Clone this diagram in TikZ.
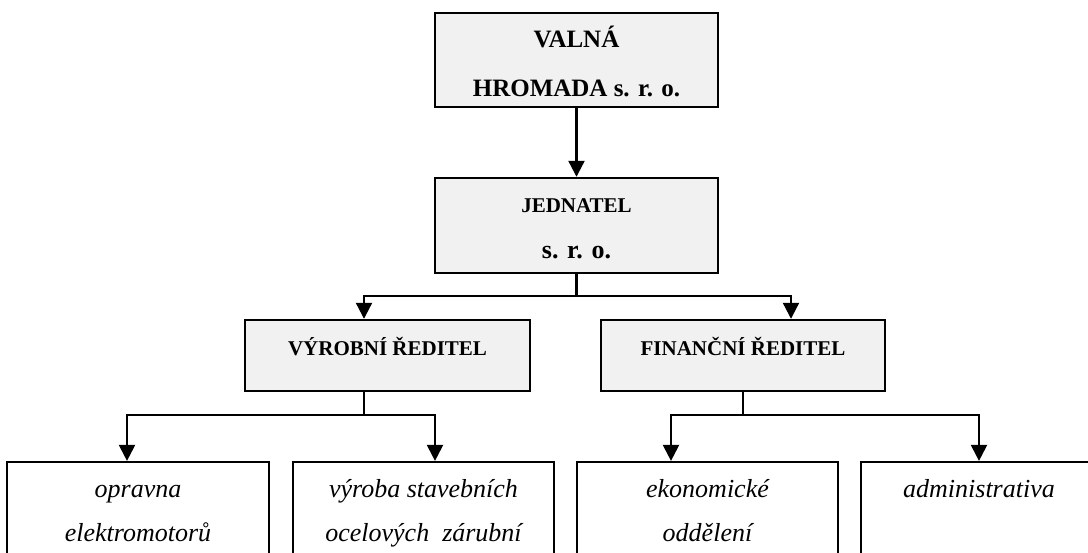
\documentclass[tikz,border=0pt]{standalone}
\usepackage{fontspec}
\setmainfont{Liberation Serif}
\usetikzlibrary{arrows.meta}
\definecolor{boxgray}{RGB}{241,241,241}
\begin{document}
\begin{tikzpicture}[x=1pt,y=-1pt,
  boss/.style={draw=black, line width=2.4pt, fill=boxgray, inner sep=0pt, align=center},
  unit/.style={draw=black, line width=2.2pt, fill=white, inner sep=0pt, align=center,
    minimum height=102pt, font=\fontsize{26}{44}\selectfont\itshape},
  conn/.style={line width=2.2pt},
  arr/.style={conn, -{Triangle[width=16pt,length=16pt]}}]
\useasboundingbox (0,0) rectangle (1088,553);
\fill[white] (0,0) rectangle (1088,553);
\clip (0,0) rectangle (1088,553);
% boxes
\node[boss, minimum width=283pt, minimum height=94pt, font=\fontsize{25}{49}\selectfont\bfseries]
  (vh) at (576.5,60) {\rule{0pt}{25pt}VALNÁ\\HROMADA s. r. o.};
\node[boss, minimum width=283pt, minimum height=95pt, font=\fontsize{21}{46}\selectfont\bfseries]
  (jed) at (576.5,225.5) {\rule{0pt}{21pt}JEDNATEL\\{\fontsize{26}{46}\selectfont s. r. o.}};
\node[boss, minimum width=285pt, minimum height=71pt, font=\fontsize{21}{25}\selectfont\bfseries,
  text height=20pt, text depth=19pt] (vyr) at (387.5,355.5) {VÝROBNÍ ŘEDITEL};
\node[boss, minimum width=284pt, minimum height=71pt, font=\fontsize{21}{25}\selectfont\bfseries,
  text height=20pt, text depth=19pt] (fin) at (743,355.5) {FINANČNÍ ŘEDITEL};
\node[unit, minimum width=262pt] (b1) at (138,513)
  {\rule{0pt}{20pt}opravna\\elektromotorů\rule[-8pt]{0pt}{0pt}};
\node[unit, minimum width=261pt] (b2) at (423.5,513)
  {\rule{0pt}{20pt}výroba stavebních\\ocelových~ zárubní\rule[-8pt]{0pt}{0pt}};
\node[unit, minimum width=261pt] (b3) at (707.5,513)
  {\rule{0pt}{20pt}ekonomické\\oddělení\rule[-8pt]{0pt}{0pt}};
\node[unit, minimum width=236pt] (b4) at (979,513)
  {\rule{0pt}{20pt}administrativa\\\mbox{}\rule[-8pt]{0pt}{0pt}};
% coordinates of the branches
\coordinate (jl) at (364,296);
\coordinate (jr) at (791,296);
\coordinate (vd) at (364,415);
\coordinate (vl) at (127,415);
\coordinate (vr) at (435,415);
\coordinate (fd) at (743,415);
\coordinate (fl) at (671,415);
\coordinate (fr) at (979,415);
% connectors
\draw[arr] (vh.south) -- (jed.north);
\draw[conn] (jed.south) -- (jed.south |- jl);
\draw[arr] (jed.south |- jl) -| (jl |- vyr.north);
\draw[arr] (jed.south |- jr) -| (jr |- fin.north);
\draw[conn] (vd |- vyr.south) -- (vd);
\draw[arr] (vd) -| (vl |- b1.north);
\draw[arr] (vd) -| (vr |- b2.north);
\draw[conn] (fin.south) -- (fd);
\draw[arr] (fd) -| (fl |- b3.north);
\draw[arr] (fd) -| (fr |- b4.north);
\end{tikzpicture}
\end{document}
